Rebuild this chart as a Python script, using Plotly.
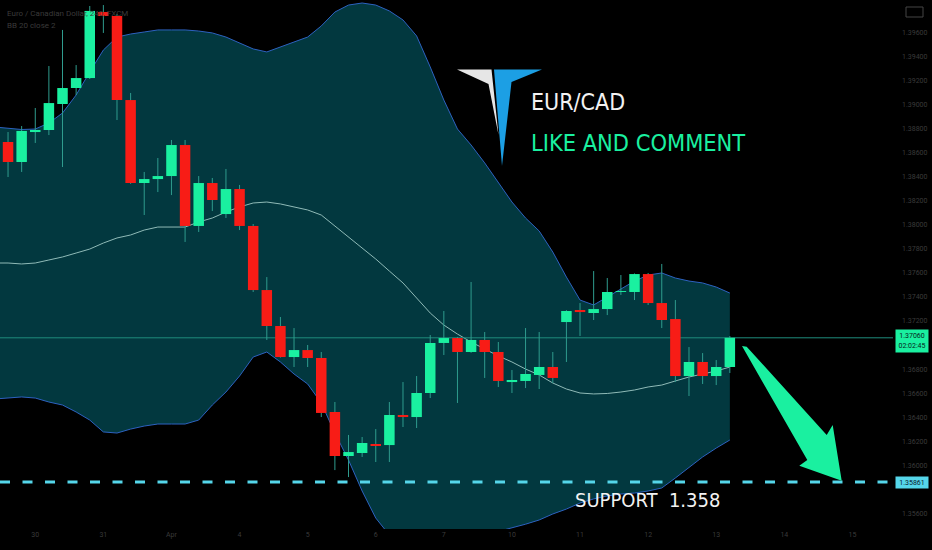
"""EUR/CAD 4h chart with Bollinger bands and a support level."""

import plotly.graph_objects as go

# candle data (oldest first)
opens = [1.38688, 1.38522, 1.38771, 1.38788, 1.39004, 1.39137, 1.39220, 1.39769, 1.39736, 1.39037,
         1.38347, 1.38380, 1.38405, 1.38663, 1.37990, 1.38347, 1.38089, 1.38297, 1.37990, 1.37457,
         1.37158, 1.36900, 1.36958, 1.36892, 1.36443, 1.36077, 1.36102, 1.36177, 1.36168, 1.36418,
         1.36401, 1.36601, 1.37017, 1.37058, 1.36942, 1.37042, 1.36942, 1.36692, 1.36701, 1.36751,
         1.36817, 1.37191, 1.37291, 1.37266, 1.37299, 1.37441, 1.37441, 1.37590, 1.37349, 1.37216,
         1.36742, 1.36859, 1.36742, 1.36817]
highs = [1.38771, 1.38821, 1.38971, 1.39320, 1.39620, 1.39328, 1.39819, 1.39827, 1.39753, 1.39096,
         1.38439, 1.38555, 1.38705, 1.38705, 1.38405, 1.38389, 1.38464, 1.38331, 1.38006, 1.37565,
         1.37233, 1.37141, 1.37000, 1.36942, 1.36526, 1.36252, 1.36235, 1.36301, 1.36526, 1.36692,
         1.36742, 1.37083, 1.37283, 1.37067, 1.37524, 1.37108, 1.37025, 1.36792, 1.37141, 1.37108,
         1.36942, 1.37290, 1.37349, 1.37615, 1.37557, 1.37582, 1.37595, 1.37599, 1.37674, 1.37374,
         1.36983, 1.36933, 1.36875, 1.37075]
lows = [1.38397, 1.38439, 1.38680, 1.38746, 1.38480, 1.39079, 1.39212, 1.39595, 1.38871, 1.38340,
        1.38081, 1.38272, 1.38247, 1.37857, 1.37940, 1.38114, 1.38056, 1.37956, 1.37441, 1.37042,
        1.36895, 1.36817, 1.36817, 1.36401, 1.35960, 1.35902, 1.36069, 1.36027, 1.36027, 1.36318,
        1.36310, 1.36559, 1.36917, 1.36518, 1.36935, 1.36726, 1.36651, 1.36601, 1.36642, 1.36634,
        1.36684, 1.36859, 1.37075, 1.37208, 1.37249, 1.37416, 1.37374, 1.37333, 1.37141, 1.36692,
        1.36576, 1.36676, 1.36667, 1.36767]
closes = [1.38522, 1.38780, 1.38788, 1.39012, 1.39137, 1.39220, 1.39778, 1.39736, 1.39037, 1.38347,
          1.38380, 1.38405, 1.38663, 1.37990, 1.38347, 1.38206, 1.38297, 1.37990, 1.37457, 1.37158,
          1.36900, 1.36958, 1.36892, 1.36435, 1.36077, 1.36110, 1.36185, 1.36160, 1.36418, 1.36401,
          1.36601, 1.37017, 1.37058, 1.36942, 1.37042, 1.36942, 1.36701, 1.36709, 1.36759, 1.36817,
          1.36726, 1.37283, 1.37274, 1.37299, 1.37441, 1.37449, 1.37590, 1.37349, 1.37208, 1.36742,
          1.36859, 1.36742, 1.36817, 1.37060]

# Bollinger bands, starting one bar before the first visible candle
upper_band = [1.38813, 1.38805, 1.38792, 1.38796, 1.38846, 1.38929, 1.39079, 1.39270, 1.39453, 1.39561,
              1.39586, 1.39603, 1.39620, 1.39620, 1.39620, 1.39611, 1.39595, 1.39561, 1.39511, 1.39462,
              1.39437, 1.39478, 1.39520, 1.39561, 1.39653, 1.39769, 1.39827, 1.39844, 1.39827, 1.39778,
              1.39703, 1.39570, 1.39312, 1.39037, 1.38796, 1.38663, 1.38514, 1.38347, 1.38189, 1.38056,
              1.37948, 1.37773, 1.37565, 1.37374, 1.37333, 1.37399, 1.37466, 1.37532, 1.37582, 1.37599,
              1.37557, 1.37532, 1.37516, 1.37482, 1.37432]
middle_band = [1.37682, 1.37682, 1.37674, 1.37682, 1.37707, 1.37732, 1.37765, 1.37798, 1.37848, 1.37890,
               1.37915, 1.37956, 1.37981, 1.37981, 1.37981, 1.38023, 1.38056, 1.38106, 1.38148, 1.38181,
               1.38189, 1.38173, 1.38148, 1.38123, 1.38081, 1.37990, 1.37898, 1.37807, 1.37715, 1.37615,
               1.37516, 1.37391, 1.37266, 1.37166, 1.37091, 1.37025, 1.36967, 1.36909, 1.36859, 1.36800,
               1.36751, 1.36684, 1.36634, 1.36601, 1.36593, 1.36597, 1.36609, 1.36626, 1.36651, 1.36667,
               1.36701, 1.36734, 1.36759, 1.36784, 1.36817]
lower_band = [1.36551, 1.36559, 1.36568, 1.36559, 1.36526, 1.36501, 1.36443, 1.36376, 1.36277, 1.36268,
              1.36301, 1.36326, 1.36343, 1.36343, 1.36343, 1.36376, 1.36501, 1.36609, 1.36742, 1.36900,
              1.36942, 1.36859, 1.36759, 1.36676, 1.36518, 1.36268, 1.36044, 1.35786, 1.35561, 1.35420,
              1.35330, 1.35240, 1.35220, 1.35290, 1.35380, 1.35390, 1.35420, 1.35450, 1.35478, 1.35510,
              1.35545, 1.35595, 1.35636, 1.35686, 1.35720, 1.35745, 1.35761, 1.35769, 1.35786, 1.35811,
              1.35894, 1.35985, 1.36069, 1.36143, 1.36210]

last_price = 1.37060
support_level = 1.35861
countdown = "02:02:45"

day_tick_pos = [2, 7, 12, 17, 22, 27, 32, 37, 42, 47, 52, 57, 62]
day_tick_text = ["30", "31", "Apr", "4", "5", "6", "7", "10", "11", "12", "13", "14", "15"]
price_ticks = [1.356, 1.360, 1.362, 1.364, 1.366, 1.368, 1.372, 1.374, 1.376, 1.378,
               1.380, 1.382, 1.384, 1.386, 1.388, 1.390, 1.392, 1.394, 1.396]

UP = "#1af0a0"
DOWN = "#f81c16"
WICK = "#2f9c8e"
BAND_FILL = "#02383f"
BAND_EDGE = "#2d62c0"
MID_LINE = "#8fbab7"
SUPPORT = "#55d6ea"
DIM = "#3a3a3a"
NARROW = "Liberation Sans Narrow, DejaVu Sans Condensed, sans-serif"

W, H = 932, 550
M_R, M_B = 39, 21
PW, PH = W - M_R, H - M_B
x_range = [-0.59, 64.98]
y_range = [1.35470, 1.39869]

idx = list(range(len(opens)))
band_idx = list(range(-1, len(opens)))


def paper(x, y):
    """Pixel position inside the plot area -> paper coords."""
    return x / PW, 1 - y / PH


def poly(points):
    parts = []
    for i, (x, y) in enumerate(points):
        px, py = paper(x, y)
        parts.append(("M" if i == 0 else "L") + f"{px:.5f},{py:.5f}")
    return " ".join(parts) + " Z"


fig = go.Figure()

# bands
fig.add_trace(go.Scatter(x=band_idx, y=upper_band, mode="lines",
                         line=dict(color=BAND_EDGE, width=1), hoverinfo="skip"))
fig.add_trace(go.Scatter(x=band_idx, y=lower_band, mode="lines", fill="tonexty",
                         fillcolor=BAND_FILL, line=dict(color=BAND_EDGE, width=1), hoverinfo="skip"))
fig.add_trace(go.Scatter(x=band_idx, y=middle_band, mode="lines",
                         line=dict(color=MID_LINE, width=1), hoverinfo="skip"))

# last price line
fig.add_trace(go.Scatter(x=x_range, y=[last_price, last_price], mode="lines",
                         line=dict(color="#1f8c7c", width=1), hoverinfo="skip"))

# wicks
wx, wy = [], []
for i in idx:
    wx += [i, i, None]
    wy += [lows[i], highs[i], None]
fig.add_trace(go.Scatter(x=wx, y=wy, mode="lines", line=dict(color=WICK, width=1), hoverinfo="skip"))

# bodies
for color, rising in ((UP, True), (DOWN, False)):
    bx, by = [], []
    for i in idx:
        if (closes[i] >= opens[i]) == rising:
            bx += [i, i, None]
            by += [opens[i], closes[i], None]
    fig.add_trace(go.Scatter(x=bx, y=by, mode="lines", line=dict(color=color, width=10.5),
                             hoverinfo="skip"))

shapes = [
    dict(type="line", xref="paper", x0=0, x1=1, yref="y", y0=support_level, y1=support_level,
         line=dict(color=SUPPORT, width=3, dash="10px,12.5px"), layer="above"),
    # logo
    dict(type="path", xref="paper", yref="paper", layer="above", line_width=0, fillcolor="#e6e6e6",
         path=poly([(457, 69.5), (491.5, 69.5), (498.5, 135), (488.5, 84)])),
    dict(type="path", xref="paper", yref="paper", layer="above", line_width=0, fillcolor="#1c9fe4",
         path=poly([(494, 69.5), (542, 69.5), (511.5, 82), (502, 166)])),
    # arrow
    dict(type="path", xref="paper", yref="paper", layer="above", line_width=0, fillcolor=UP,
         path=poly([(742, 346), (746.7, 346.7), (826.7, 435), (832.7, 425), (841.7, 480.7),
                    (799.3, 465.7), (807.3, 460)])),
    # screenshot icon, top right
    dict(type="rect", xref="paper", yref="paper", x0=906 / PW, x1=923 / PW,
         y0=1 - 17 / PH, y1=1 - 7 / PH, line=dict(color="#444444", width=1)),
]

annotations = [
    dict(text="Euro / Canadian Dollar, 240, FXCM", x=5 / PW, y=1 - 13 / PH),
    dict(text="BB 20 close 2", x=5 / PW, y=1 - 25 / PH),
]
for a in annotations:
    a.update(xref="paper", yref="paper", xanchor="left", yanchor="middle", showarrow=False,
             font=dict(family="Roboto, sans-serif", size=8, color=DIM))

annotations += [
    dict(text="EUR/CAD", x=529 / PW, y=1 - 102 / PH, xref="paper", yref="paper",
         xanchor="left", yanchor="middle", showarrow=False,
         font=dict(family=NARROW, size=23, color="#f2f2f2")),
    dict(text="LIKE AND COMMENT", x=529 / PW, y=1 - 143 / PH, xref="paper", yref="paper",
         xanchor="left", yanchor="middle", showarrow=False,
         font=dict(family=NARROW, size=23.4, color=UP)),
    dict(text="SUPPORT  1.358", x=573 / PW, y=1 - 500 / PH, xref="paper", yref="paper",
         xanchor="left", yanchor="middle", showarrow=False,
         font=dict(family=NARROW, size=20, color="#f2f2f2")),
    dict(text=f"{last_price:.5f}<br>{countdown}", x=1, y=last_price, xref="paper", yref="y",
         xanchor="left", yanchor="middle", xshift=2, yshift=-3.5, showarrow=False,
         bgcolor=UP, width=32, height=22, borderpad=0,
         font=dict(family="Roboto, sans-serif", size=7, color="#06251c")),
    dict(text=f"{support_level:.5f}", x=1, y=support_level, xref="paper", yref="y",
         xanchor="left", yanchor="middle", xshift=2, yshift=-1, showarrow=False,
         bgcolor=SUPPORT, width=32, height=11, borderpad=0,
         font=dict(family="Roboto, sans-serif", size=7, color="#0a2230")),
]

fig.update_layout(
    width=W, height=H,
    margin=dict(l=0, r=M_R, t=0, b=M_B),
    paper_bgcolor="#000000", plot_bgcolor="#000000",
    showlegend=False,
    shapes=shapes,
    annotations=annotations,
    xaxis=dict(range=x_range, showgrid=False, zeroline=False, showline=False,
               tickmode="array", tickvals=day_tick_pos, ticktext=day_tick_text,
               tickfont=dict(family="Roboto, sans-serif", size=7, color=DIM), ticks=""),
    yaxis=dict(range=y_range, side="right", showgrid=False, zeroline=False, showline=False,
               tickmode="array", tickvals=price_ticks, tickformat=".5f", ticks="",
               ticklabelstandoff=8,
               tickfont=dict(family="Roboto, sans-serif", size=7, color=DIM)),
)

# the page body has a default 8px margin; drop it so the chart sits at the window corner
fig.write_html("out.html", config={"displayModeBar": False},
               post_script="document.body.style.margin='0';document.body.style.overflow='hidden';")
